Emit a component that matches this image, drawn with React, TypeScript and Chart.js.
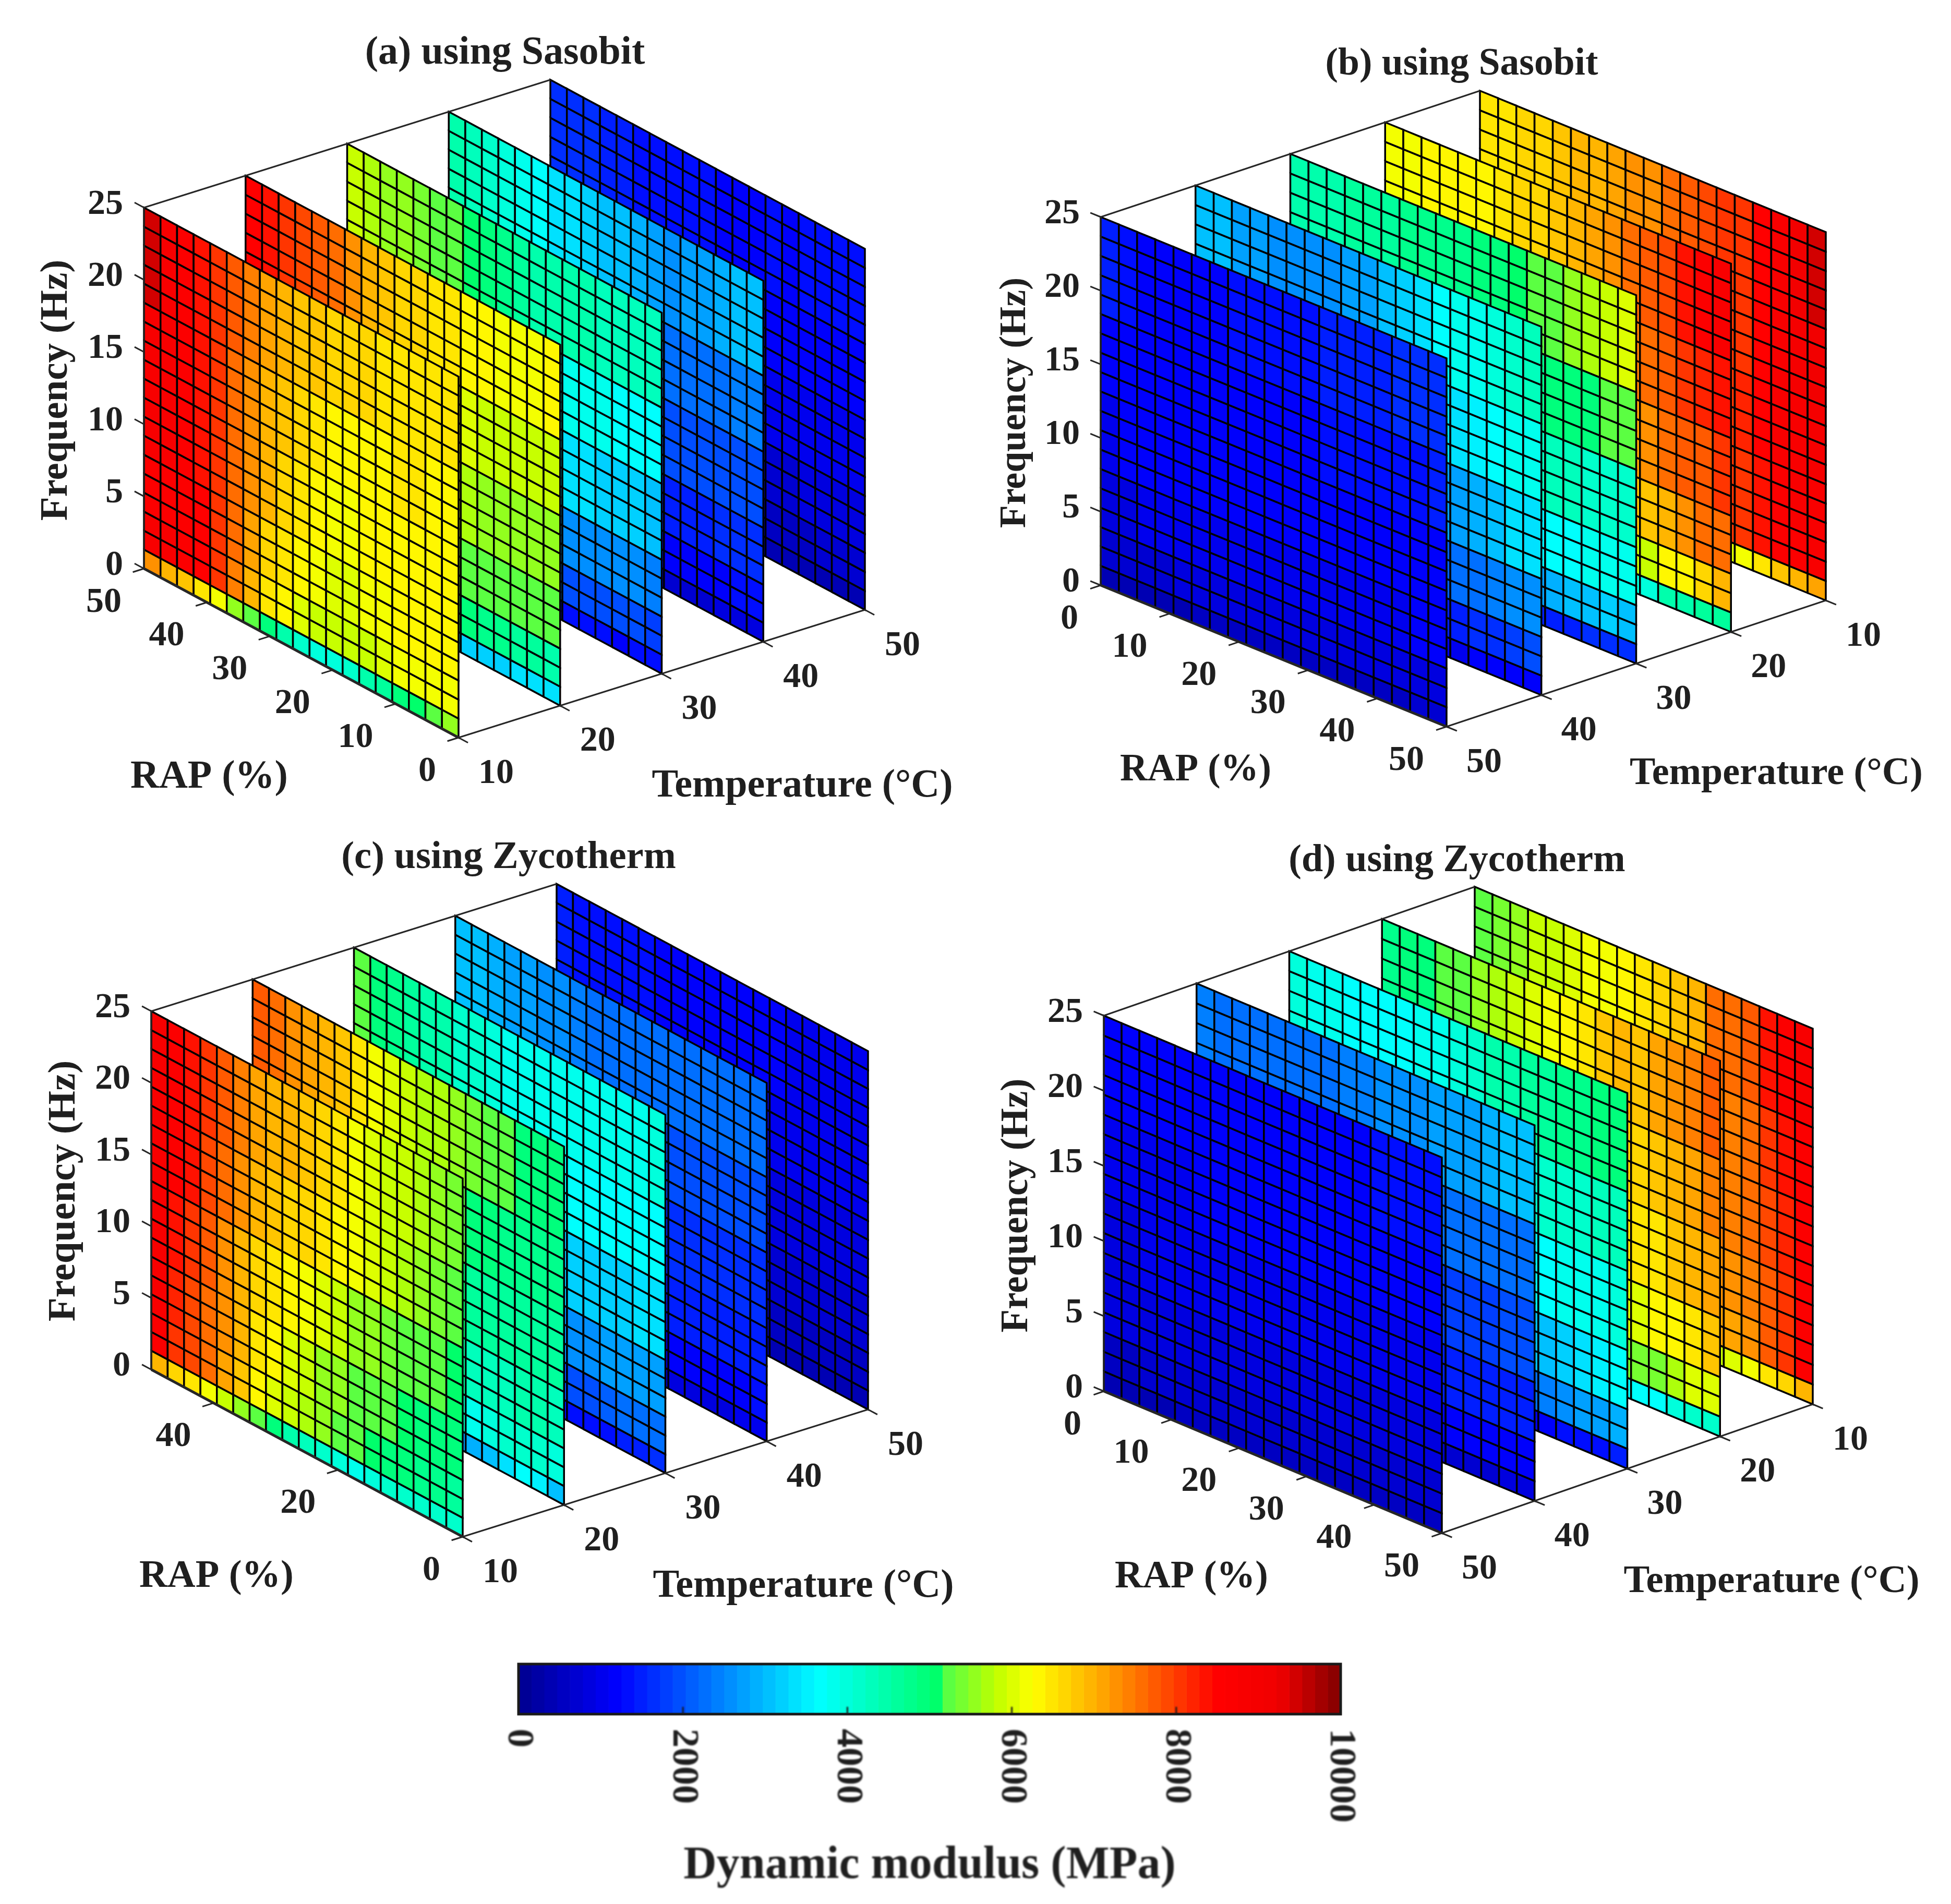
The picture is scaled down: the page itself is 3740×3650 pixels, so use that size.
import React, { useEffect, useRef } from "react";
import { Chart, registerables } from "chart.js";

Chart.register(...registerables);

const SERIF = '"Liberation Serif"';
const TEMPS = [10, 20, 30, 40, 50];
const RAP_GRID = [0, 2.63, 5.26, 7.89, 10.53, 13.16, 15.79, 18.42, 21.05, 23.68, 26.32, 28.95, 31.58, 34.21, 36.84, 39.47, 42.11, 44.74, 47.37, 50];
const FREQ_GRID = [0, 1.32, 2.63, 3.95, 5.26, 6.58, 7.89, 9.21, 10.53, 11.84, 13.16, 14.47, 15.79, 17.11, 18.42, 19.74, 21.05, 22.37, 23.68, 25];
const ROW_BAND = [0, 1, 1, 2, 2, 2, 3, 3, 3, 3, 4, 4, 4, 4, 5, 5, 5, 5, 5];
const FREQ_TICKS = [0, 5, 10, 15, 20, 25];
const RAP_TICKS = [0, 10, 20, 30, 40, 50];
const RAP_TICKS_C = [0, 20, 40];
const TEMP_TICKS = [10, 20, 30, 40, 50];
const COLORBAR_LEVELS = 64;
const COLORBAR_MAX = 10000;

const JET_STOPS: [number, number, number, number][] = [
  [0, 0, 0, 143], [0.12, 0, 0, 255], [0.365, 0, 255, 255], [0.515, 0, 255, 100], [0.52, 85, 255, 70],
  [0.58, 190, 255, 0], [0.625, 255, 255, 0], [0.71, 255, 165, 0], [0.85, 255, 0, 0], [0.925, 240, 0, 0], [1, 128, 0, 0],
];

// Each sheet holds six row groups, bottom to top; columns run in screen order, left to right (MPa)
const A_T10 = [
  [7200, 7000, 6800, 6500, 6200, 5600, 5200, 4900, 4500, 4100, 3950, 4000, 4200, 4400, 4600, 4900, 5000, 5300, 5500],
  [8800, 8800, 8700, 8500, 8000, 7400, 7000, 6500, 6350, 6050, 5900, 5800, 5850, 5900, 6000, 6100, 6200, 6200, 6200],
  [8700, 8700, 8700, 8500, 8000, 7500, 7100, 6700, 6500, 6250, 6100, 6000, 6050, 6100, 6200, 6250, 6300, 6350, 6300],
  [8800, 8800, 8700, 8400, 8000, 7500, 7200, 6900, 6700, 6450, 6300, 6200, 6200, 6250, 6300, 6350, 6400, 6400, 6350],
  [8800, 8800, 8700, 8400, 8000, 7600, 7300, 7000, 6800, 6600, 6450, 6400, 6350, 6350, 6400, 6450, 6450, 6400, 6400],
  [9500, 8900, 8700, 8300, 8000, 7800, 7400, 7100, 7000, 6800, 6800, 6700, 6600, 6600, 6500, 6500, 6500, 6450, 6450],
];
const A_T20 = [
  [5500, 5400, 5200, 5000, 4800, 4500, 4300, 4100, 3900, 3700, 3500, 3300, 3200, 3200, 3200, 3200, 3300, 3300, 3300],
  [7000, 6900, 6800, 6600, 6400, 6200, 6000, 5900, 5800, 5700, 5600, 5500, 5300, 4900, 4800, 4700, 4600, 4550, 4500],
  [7500, 7400, 7200, 7000, 6800, 6600, 6400, 6200, 6100, 6000, 5900, 5800, 5600, 5200, 5200, 5200, 5200, 5200, 5200],
  [7800, 7700, 7500, 7300, 7100, 6900, 6700, 6500, 6400, 6300, 6200, 6100, 6000, 5700, 5600, 5600, 5600, 5600, 5600],
  [8000, 7900, 7700, 7500, 7300, 7000, 6800, 6600, 6500, 6400, 6300, 6200, 6100, 5950, 5900, 5850, 5850, 5850, 5850],
  [8500, 8400, 8100, 7900, 7700, 7500, 7200, 7000, 6800, 6700, 6600, 6500, 6450, 6300, 6250, 6200, 6200, 6200, 6250],
];
const A_T30 = [
  [3500, 3400, 3200, 3000, 2800, 2600, 2400, 2200, 2000, 1800, 1600, 1500, 1400, 1250, 1250, 1250, 1200, 1250, 1300],
  [4500, 4400, 4300, 4100, 3900, 3700, 3500, 3300, 3100, 3000, 2800, 2700, 2600, 2000, 2000, 2000, 2000, 1900, 1800],
  [4800, 4700, 4500, 4400, 4200, 4000, 3800, 3600, 3400, 3200, 3100, 3000, 2900, 2600, 2600, 2600, 2600, 2500, 2400],
  [5200, 5100, 5000, 4800, 4600, 4400, 4200, 4000, 3900, 3700, 3600, 3500, 3400, 3300, 3300, 3200, 3200, 3200, 3100],
  [5400, 5300, 5200, 5000, 4900, 4700, 4500, 4300, 4100, 4000, 3900, 3800, 3800, 3800, 3750, 3750, 3700, 3700, 3700],
  [5800, 5700, 5600, 5500, 5400, 5300, 5200, 5000, 4950, 4800, 4600, 4500, 4450, 4450, 4400, 4300, 4300, 4300, 4300],
];
const A_T40 = [
  [2000, 1900, 1800, 1600, 1400, 1300, 1100, 1000, 1000, 950, 900, 900, 900, 750, 750, 750, 800, 850, 850],
  [2800, 2700, 2500, 2300, 2100, 1900, 1700, 1600, 1500, 1400, 1400, 1300, 1300, 1100, 1150, 1150, 1200, 1250, 1250],
  [3200, 3100, 2900, 2700, 2500, 2300, 2100, 2000, 1900, 1800, 1700, 1600, 1600, 1550, 1550, 1550, 1600, 1600, 1650],
  [3600, 3500, 3300, 3100, 2900, 2700, 2500, 2400, 2300, 2100, 2000, 2000, 1900, 1900, 1900, 1900, 1900, 1950, 1950],
  [4000, 3900, 3700, 3500, 3300, 3100, 2900, 2800, 2700, 2500, 2400, 2300, 2250, 2250, 2250, 2300, 2300, 2350, 2400],
  [4400, 4300, 4100, 4000, 3800, 3600, 3400, 3300, 3200, 3100, 3000, 2900, 2800, 2650, 2700, 2800, 2900, 3000, 3100],
];
const A_T50 = [
  [500, 500, 500, 500, 450, 450, 450, 400, 400, 400, 400, 400, 350, 350, 350, 350, 400, 400, 450],
  [750, 750, 700, 700, 700, 700, 650, 650, 650, 650, 600, 600, 600, 600, 600, 600, 650, 650, 650],
  [1000, 1000, 950, 950, 900, 900, 850, 850, 800, 800, 800, 800, 800, 750, 750, 800, 800, 800, 850],
  [1200, 1200, 1150, 1150, 1100, 1100, 1050, 1050, 1000, 1000, 1000, 1000, 1000, 1000, 1000, 1000, 1000, 1000, 1000],
  [1400, 1400, 1300, 1300, 1250, 1200, 1150, 1100, 1100, 1100, 1100, 1100, 1100, 1100, 1100, 1100, 1150, 1150, 1150],
  [1700, 1600, 1600, 1500, 1500, 1400, 1300, 1300, 1250, 1250, 1200, 1200, 1200, 1250, 1200, 1250, 1300, 1350, 1400],
];
const B_T10 = [
  [5000, 5200, 5200, 5300, 5400, 5500, 5600, 5700, 5800, 5900, 6000, 6000, 6000, 6000, 6200, 6500, 6800, 7000, 7100],
  [6000, 6000, 6100, 6200, 6300, 6400, 6500, 6700, 6900, 7100, 7300, 7500, 7800, 8000, 8100, 8300, 8600, 8700, 8800],
  [6200, 6200, 6300, 6400, 6500, 6600, 6700, 6850, 7000, 7150, 7350, 7550, 7800, 8000, 8100, 8400, 8700, 8800, 8900],
  [6400, 6400, 6500, 6600, 6700, 6800, 6900, 7000, 7100, 7200, 7400, 7600, 7800, 8050, 8150, 8500, 8800, 8900, 9000],
  [6450, 6450, 6550, 6650, 6750, 6850, 6950, 7050, 7150, 7250, 7450, 7650, 7850, 8000, 8100, 8500, 8800, 9000, 9100],
  [6500, 6500, 6600, 6700, 6800, 6900, 7000, 7100, 7200, 7300, 7500, 7700, 7900, 8000, 8100, 8500, 8800, 9200, 9500],
];
const B_T20 = [
  [3600, 3600, 3600, 3600, 3600, 3700, 3700, 3800, 3900, 4000, 4000, 4000, 4000, 4000, 4050, 4450, 4400, 4600, 4600],
  [5000, 5000, 5200, 5200, 5300, 5400, 5500, 5600, 5700, 5800, 5900, 6000, 6100, 5800, 5900, 6400, 6300, 6600, 6900],
  [5500, 5500, 5600, 5700, 5800, 5900, 6000, 6100, 6200, 6300, 6400, 6500, 6600, 6800, 6850, 7000, 7200, 7500, 7600],
  [5800, 5800, 5900, 6000, 6100, 6200, 6300, 6400, 6500, 6600, 6700, 6800, 6900, 7100, 7200, 7500, 7700, 7800, 8000],
  [6000, 6000, 6100, 6100, 6200, 6300, 6400, 6500, 6600, 6700, 6800, 7000, 7200, 7400, 7500, 7800, 8000, 8250, 8350],
  [6200, 6200, 6300, 6300, 6400, 6400, 6500, 6600, 6700, 6800, 6900, 7100, 7300, 7500, 7700, 7900, 8300, 8600, 8800],
];
const B_T30 = [
  [1300, 1300, 1300, 1300, 1300, 1300, 1300, 1300, 1300, 1400, 1400, 1500, 1500, 1500, 1550, 1550, 1600, 1600, 1650],
  [2800, 2800, 2800, 2800, 2800, 2800, 2800, 2900, 3000, 3100, 3200, 3400, 3600, 2800, 2900, 3000, 3100, 3200, 3100],
  [3200, 3200, 3200, 3200, 3200, 3200, 3300, 3400, 3500, 3600, 3700, 3800, 3800, 3500, 3600, 3700, 3750, 3800, 3800],
  [3600, 3600, 3600, 3600, 3700, 3700, 3700, 3800, 3900, 4000, 4100, 4200, 4300, 4300, 4300, 4250, 4200, 4200, 4200],
  [3900, 3900, 3900, 3900, 4000, 4000, 4000, 4100, 4200, 4300, 4400, 4500, 4700, 4800, 4850, 4900, 4950, 5200, 5200],
  [4500, 4500, 4500, 4600, 4600, 4600, 4700, 4700, 4800, 4800, 4900, 4950, 5000, 5200, 5300, 5500, 5700, 5800, 6000],
];
const B_T40 = [
  [900, 900, 900, 900, 900, 900, 900, 900, 900, 950, 1000, 1050, 1050, 1050, 1050, 1100, 1100, 1150, 1200],
  [1300, 1300, 1300, 1300, 1300, 1300, 1300, 1300, 1300, 1350, 1400, 1450, 1500, 1500, 1500, 1600, 1700, 1800, 1900],
  [1700, 1700, 1700, 1700, 1700, 1700, 1700, 1700, 1800, 1800, 1900, 2000, 2100, 2100, 2200, 2300, 2400, 2500, 2600],
  [2100, 2100, 2100, 2100, 2100, 2000, 2000, 2000, 2100, 2200, 2300, 2500, 2700, 2700, 2800, 2900, 3100, 3300, 3400],
  [2400, 2400, 2300, 2300, 2300, 2200, 2200, 2200, 2300, 2500, 2700, 2900, 3200, 3300, 3400, 3500, 3650, 3750, 3800],
  [3000, 3000, 2800, 2700, 2600, 2500, 2500, 2500, 2700, 2800, 3000, 3200, 3400, 3700, 3750, 3800, 3950, 4100, 4300],
];
const B_T50 = [
  [400, 400, 450, 450, 450, 500, 500, 500, 500, 550, 550, 600, 600, 600, 600, 600, 600, 650, 650],
  [700, 700, 750, 750, 800, 800, 800, 850, 850, 850, 850, 850, 850, 850, 850, 900, 900, 900, 900],
  [900, 900, 950, 950, 950, 1000, 1000, 1000, 1000, 1050, 1050, 1050, 1050, 1050, 1050, 1050, 1050, 1100, 1100],
  [1050, 1100, 1100, 1100, 1100, 1100, 1100, 1100, 1100, 1150, 1150, 1150, 1150, 1150, 1150, 1200, 1200, 1200, 1200],
  [1150, 1150, 1150, 1150, 1150, 1150, 1150, 1200, 1200, 1200, 1200, 1200, 1250, 1250, 1250, 1300, 1350, 1400, 1450],
  [1450, 1250, 1200, 1150, 1150, 1200, 1200, 1250, 1250, 1300, 1350, 1400, 1450, 1500, 1500, 1550, 1600, 1650, 1700],
];
const C_T10 = [
  [6950, 6700, 6450, 6200, 5800, 5500, 5200, 4900, 4500, 4300, 4200, 4000, 3900, 4000, 4100, 4150, 4100, 4150, 4150],
  [8700, 8000, 7900, 7500, 7100, 6800, 6300, 6050, 5900, 5650, 5500, 5300, 5250, 5000, 4900, 4850, 4800, 4700, 4550],
  [8800, 8200, 7900, 7500, 7200, 6900, 6500, 6250, 6050, 5800, 5600, 5500, 5300, 5250, 5200, 5100, 4950, 4900, 4850],
  [8800, 8400, 8100, 7700, 7300, 7000, 6700, 6450, 6350, 6200, 6000, 5800, 5600, 5500, 5400, 5300, 5250, 5200, 5000],
  [8800, 8700, 8300, 7900, 7500, 7200, 7000, 6850, 6700, 6600, 6450, 6300, 6200, 6050, 5800, 5650, 5500, 5400, 5200],
  [8800, 8700, 8400, 8100, 7700, 7450, 7150, 7000, 6950, 6850, 6700, 6500, 6200, 6050, 5900, 5800, 5700, 5600, 5400],
];
const C_T20 = [
  [4800, 4700, 4500, 4300, 4100, 3900, 3700, 3500, 3300, 3100, 2900, 2800, 2700, 2900, 3100, 3300, 3600, 3500, 3000],
  [6500, 6300, 6100, 5900, 5700, 5400, 5200, 5000, 4800, 4600, 4500, 4400, 4300, 3900, 4000, 4100, 4100, 4100, 4000],
  [6900, 6700, 6500, 6300, 6100, 5900, 5600, 5400, 5200, 5000, 4900, 4800, 4600, 4300, 4300, 4300, 4400, 4400, 4300],
  [7300, 7100, 6900, 6700, 6500, 6300, 6100, 5900, 5700, 5500, 5300, 5200, 5000, 4600, 4600, 4550, 4600, 4600, 4600],
  [7500, 7300, 7100, 6900, 6700, 6500, 6300, 6100, 5900, 5700, 5500, 5300, 5200, 4900, 4850, 4800, 4800, 4750, 4700],
  [7700, 7600, 7300, 7100, 6900, 6750, 6450, 6200, 6050, 5850, 5750, 5700, 5550, 5400, 5250, 5200, 4950, 4950, 4900],
];
const C_T30 = [
  [1800, 1800, 1700, 1600, 1500, 1500, 1400, 1300, 1300, 1200, 1200, 1200, 1300, 1300, 1300, 1400, 1500, 1500, 1600],
  [3000, 2900, 2800, 2700, 2600, 2500, 2400, 2300, 2200, 2100, 2000, 2000, 2000, 2000, 2000, 2100, 2200, 2200, 2300],
  [3500, 3400, 3300, 3100, 3000, 2900, 2800, 2700, 2600, 2500, 2500, 2500, 2500, 2600, 2600, 2700, 2700, 2800, 2800],
  [4000, 3900, 3800, 3600, 3500, 3400, 3300, 3200, 3100, 3000, 3000, 3000, 3100, 3200, 3200, 3200, 3200, 3300, 3300],
  [4400, 4300, 4200, 4000, 3900, 3800, 3700, 3600, 3500, 3400, 3400, 3500, 3600, 3700, 3700, 3700, 3700, 3700, 3700],
  [5200, 4950, 4800, 4600, 4500, 4400, 4200, 4100, 4000, 3900, 3800, 3800, 3800, 3900, 3900, 3900, 3900, 3900, 3950],
];
const C_T40 = [
  [1200, 1200, 1100, 1100, 1000, 1000, 900, 900, 800, 800, 800, 800, 800, 850, 850, 850, 900, 950, 950],
  [1800, 1800, 1700, 1600, 1500, 1400, 1400, 1300, 1300, 1300, 1200, 1200, 1200, 1150, 1150, 1150, 1200, 1200, 1250],
  [2100, 2100, 2000, 1900, 1800, 1700, 1600, 1600, 1500, 1500, 1500, 1500, 1500, 1500, 1500, 1500, 1500, 1500, 1500],
  [2400, 2400, 2300, 2200, 2100, 2000, 1900, 1800, 1800, 1700, 1700, 1700, 1700, 1700, 1700, 1700, 1700, 1700, 1700],
  [2700, 2600, 2500, 2400, 2300, 2200, 2100, 2000, 2000, 1900, 1900, 1900, 1900, 1950, 1950, 1950, 1950, 1950, 1950],
  [3000, 3000, 2900, 2800, 2700, 2600, 2500, 2400, 2300, 2300, 2300, 2300, 2300, 2300, 2250, 2250, 2200, 2200, 2200],
];
const C_T50 = [
  [500, 500, 500, 450, 450, 450, 450, 400, 400, 400, 400, 350, 350, 350, 350, 350, 350, 350, 350],
  [800, 750, 750, 700, 700, 650, 650, 600, 600, 600, 550, 550, 550, 550, 550, 550, 550, 550, 550],
  [1000, 950, 950, 900, 900, 850, 850, 800, 800, 750, 750, 700, 700, 700, 700, 700, 700, 700, 700],
  [1150, 1100, 1050, 1050, 1000, 950, 950, 900, 900, 850, 850, 850, 850, 850, 850, 850, 850, 850, 850],
  [1300, 1250, 1200, 1200, 1150, 1100, 1100, 1050, 1050, 1000, 1000, 1000, 950, 950, 950, 950, 950, 950, 950],
  [1500, 1400, 1400, 1300, 1300, 1250, 1200, 1200, 1150, 1150, 1100, 1100, 1100, 1100, 1050, 1050, 1050, 1000, 1000],
];
const D_T10 = [
  [3500, 3600, 3700, 3800, 3900, 4000, 4100, 4300, 4500, 4800, 5000, 5200, 5500, 5800, 5950, 6200, 6550, 6700, 6950],
  [4500, 4700, 4900, 5200, 5300, 5500, 5700, 5900, 6100, 6300, 6500, 6700, 6900, 7100, 7150, 7300, 7700, 8100, 8700],
  [4800, 5000, 5200, 5400, 5600, 5800, 6000, 6100, 6300, 6400, 6600, 6800, 7000, 7300, 7300, 7400, 7700, 8100, 8700],
  [5000, 5200, 5400, 5600, 5800, 6000, 6100, 6200, 6400, 6500, 6700, 6900, 7100, 7400, 7400, 7500, 7900, 8200, 8700],
  [5200, 5300, 5500, 5700, 5850, 6000, 6150, 6250, 6350, 6500, 6700, 6900, 7100, 7450, 7450, 7500, 8000, 8300, 8700],
  [5200, 5400, 5600, 5800, 5900, 6000, 6150, 6200, 6300, 6450, 6600, 6800, 7000, 7500, 7550, 7700, 8300, 8700, 8800],
];
const D_T20 = [
  [2800, 2800, 2800, 2800, 2900, 3000, 3100, 3200, 3300, 3400, 3500, 3600, 3700, 3700, 3700, 3700, 3950, 4100, 4200],
  [4000, 4000, 4100, 4200, 4300, 4400, 4500, 4700, 4800, 4950, 5200, 5300, 5400, 5400, 5400, 5400, 5700, 5950, 6050],
  [4300, 4300, 4400, 4500, 4600, 4700, 4900, 5200, 5400, 5600, 5800, 6000, 6000, 6050, 6050, 6250, 6400, 6550, 6800],
  [4500, 4600, 4700, 4800, 4950, 5200, 5300, 5500, 5700, 5900, 6100, 6300, 6400, 6450, 6450, 6550, 6800, 6950, 7100],
  [4600, 4700, 4800, 4950, 5200, 5400, 5500, 5700, 5900, 6100, 6300, 6500, 6650, 6700, 6650, 6800, 6950, 7100, 7350],
  [4800, 4900, 4950, 5200, 5300, 5500, 5650, 5800, 6000, 6200, 6250, 6450, 6800, 6900, 6850, 7050, 7250, 7450, 7750],
];
const D_T30 = [
  [1300, 1300, 1300, 1300, 1300, 1300, 1300, 1300, 1400, 1400, 1500, 1500, 1300, 1100, 1150, 1250, 1300, 1400, 1500],
  [2600, 2600, 2600, 2600, 2600, 2600, 2600, 2700, 2800, 2900, 3000, 3100, 3200, 2300, 2400, 2500, 2700, 2800, 2900],
  [3000, 3000, 3000, 3000, 3000, 3000, 3000, 3100, 3200, 3300, 3400, 3500, 3600, 3000, 3100, 3200, 3300, 3500, 3600],
  [3200, 3200, 3200, 3200, 3200, 3300, 3300, 3400, 3500, 3600, 3700, 3800, 3900, 3650, 3700, 3800, 3850, 3900, 3950],
  [3600, 3500, 3400, 3400, 3400, 3500, 3500, 3600, 3700, 3800, 4000, 4200, 4300, 4100, 4150, 4200, 4200, 4250, 4250],
  [4000, 3900, 3800, 3700, 3700, 3600, 3700, 3800, 3900, 4000, 4200, 4400, 4500, 4550, 4600, 4700, 4800, 4900, 4950],
];
const D_T40 = [
  [900, 900, 900, 900, 950, 950, 950, 950, 950, 1000, 1000, 1050, 800, 750, 750, 750, 750, 800, 800],
  [1300, 1300, 1300, 1300, 1300, 1300, 1300, 1300, 1300, 1300, 1300, 1300, 1200, 1150, 1150, 1200, 1200, 1200, 1200],
  [1600, 1600, 1600, 1600, 1600, 1600, 1600, 1600, 1600, 1600, 1600, 1600, 1500, 1500, 1500, 1500, 1550, 1550, 1550],
  [1800, 1800, 1800, 1800, 1800, 1800, 1800, 1800, 1800, 1800, 1800, 1800, 1800, 1800, 1800, 1800, 1850, 1900, 1900],
  [2100, 2100, 2100, 2100, 2100, 2100, 2100, 2100, 2100, 2100, 2100, 2100, 2150, 2200, 2200, 2200, 2300, 2300, 2300],
  [2400, 2300, 2300, 2200, 2200, 2300, 2300, 2300, 2400, 2400, 2500, 2600, 2650, 2700, 2750, 2800, 2900, 3000, 3100],
];
const D_T50 = [
  [450, 450, 450, 450, 500, 500, 500, 500, 500, 500, 500, 500, 500, 500, 500, 500, 500, 550, 550],
  [600, 600, 650, 650, 650, 650, 650, 650, 700, 700, 700, 700, 700, 700, 700, 700, 700, 700, 700],
  [800, 800, 800, 800, 850, 850, 850, 850, 850, 850, 850, 850, 850, 850, 850, 850, 850, 850, 850],
  [900, 900, 950, 950, 950, 950, 1000, 1000, 1000, 1000, 1000, 1000, 1000, 1000, 1000, 1000, 1000, 1000, 1000],
  [1000, 1000, 1050, 1050, 1050, 1100, 1100, 1100, 1100, 1100, 1100, 1100, 1100, 1100, 1100, 1100, 1100, 1100, 1150],
  [1200, 1100, 1100, 1100, 1100, 1100, 1100, 1100, 1100, 1100, 1100, 1150, 1150, 1200, 1200, 1250, 1300, 1350, 1400],
];

function jet(value: number): string {
  const level = Math.min(COLORBAR_LEVELS - 1, Math.floor((value / COLORBAR_MAX) * COLORBAR_LEVELS));
  const t = (level + 0.5) / COLORBAR_LEVELS;
  for (let i = 1; i < JET_STOPS.length; i++) {
    const a = JET_STOPS[i - 1];
    const b = JET_STOPS[i];
    if (t <= b[0]) {
      const k = (t - a[0]) / (b[0] - a[0]);
      const c = [1, 2, 3].map((j) => Math.round(a[j] + (b[j] - a[j]) * k));
      return `rgb(${c[0]},${c[1]},${c[2]})`;
    }
  }
  return "rgb(128,0,0)";
}

type Panel = {
  title: string; titleAt: number[]; rapLabelAt: number[]; tempLabelAt: number[]; freqLabelAt: number[];
  fonts: number[];
  box: number[]; base: number[]; tVec: number[]; rVec: number[]; fSpan: number;
  sheets: number[][][]; rapTicks: number[]; flipped: boolean;
};

// fonts: title, RAP label, temperature label, frequency label (px)
const PANELS: Panel[] = [
  { title: "(a) using Sasobit", titleAt: [968, 102], rapLabelAt: [401, 1490], tempLabelAt: [1538, 1507], freqLabelAt: [109, 748],
    fonts: [76, 76, 76, 75],
    box: [0, 0, 1870, 1570], base: [879, 1414], tVec: [779, -245], rVec: [-603, -324], fSpan: -692,
    sheets: [A_T10, A_T20, A_T30, A_T40, A_T50], rapTicks: RAP_TICKS, flipped: false },
  { title: "(b) using Sasobit", titleAt: [2802, 124], rapLabelAt: [2292, 1477], tempLabelAt: [3405, 1484], freqLabelAt: [1946, 772],
    fonts: [73.5, 73, 74, 72],
    box: [1870, 0, 1870, 1570], base: [2837, 880], tVec: [-727, 242], rVec: [663, 271], fSpan: -706,
    sheets: [B_T10, B_T20, B_T30, B_T40, B_T50], rapTicks: RAP_TICKS, flipped: true },
  { title: "(c) using Zycotherm", titleAt: [975, 1645], rapLabelAt: [415, 3023], tempLabelAt: [1540, 3041], freqLabelAt: [124, 2283],
    fonts: [74.5, 74.5, 76, 75],
    box: [0, 1570, 1870, 1550], base: [887, 2946], tVec: [777, -244], rVec: [-597, -320.5], fSpan: -687,
    sheets: [C_T10, C_T20, C_T30, C_T40, C_T50], rapTicks: RAP_TICKS_C, flipped: false },
  { title: "(d) using Zycotherm", titleAt: [2793, 1651], rapLabelAt: [2284, 3024], tempLabelAt: [3396, 3033], freqLabelAt: [1950, 2311],
    fonts: [74, 74, 74.7, 73],
    box: [1870, 1570, 1870, 1550], base: [2827, 2420], tVec: [-711, 247], rVec: [648, 272], fSpan: -720,
    sheets: [D_T10, D_T20, D_T30, D_T40, D_T50], rapTicks: RAP_TICKS, flipped: true },
];

const AXIS_COLOR = "#262626";
const TEXT_COLOR = "#1f1f1f";

function makeProjector(p: Panel) {
  return (t: number, r: number, f: number) => ({
    x: p.base[0] + ((t - 10) / 40) * p.tVec[0] + (r / 50) * p.rVec[0],
    y: p.base[1] + ((t - 10) / 40) * p.tVec[1] + (r / 50) * p.rVec[1] + (f / 25) * p.fSpan,
  });
}

function panelDatasets(p: Panel) {
  const proj = makeProjector(p);
  const back: any[] = [];
  const order = p.flipped ? [0, 1, 2, 3, 4] : [4, 3, 2, 1, 0];
  const rapEdges = p.flipped ? RAP_GRID : [...RAP_GRID].reverse();
  for (const s of order) {
    const t = TEMPS[s];
    for (let row = 0; row < FREQ_GRID.length - 1; row++) {
      const values = p.sheets[s][ROW_BAND[row]];
      for (let col = 0; col < values.length; col++) {
        const r0 = rapEdges[col], r1 = rapEdges[col + 1], f0 = FREQ_GRID[row], f1 = FREQ_GRID[row + 1];
        back.push({
          data: [proj(t, r0, f0), proj(t, r1, f0), proj(t, r1, f1), proj(t, r0, f1), proj(t, r0, f0)],
          showLine: true, fill: "shape", backgroundColor: jet(values[col]),
          borderColor: "#000", borderWidth: 3.5, pointRadius: 0, borderJoinStyle: "miter",
        });
      }
    }
  }
  const seg = (a: any, b: any, w = 3) => ({
    data: [a, b], showLine: true, fill: false, borderColor: AXIS_COLOR, borderWidth: w, pointRadius: 0,
  });
  const tFront = p.flipped ? 50 : 10;
  const rLeft = p.flipped ? 0 : 50;
  const rFront = p.flipped ? 50 : 0;
  const tOut = p.flipped ? 1.1 : -1.1;
  const rOutLeft = p.flipped ? -1.5 : 1.5;
  const rOutFront = p.flipped ? 1.5 : -1.5;
  const axes = [
    seg(proj(tFront, 0, 0), proj(tFront, 50, 0), 5),
    seg(proj(10, rFront, 0), proj(50, rFront, 0)),
    seg(proj(tFront, rLeft, 0), proj(tFront, rLeft, 25)),
    seg(proj(10, rLeft, 25), proj(50, rLeft, 25)),
  ];
  for (const f of FREQ_TICKS) axes.push(seg(proj(tFront, rLeft, f), proj(tFront, rLeft + rOutLeft, f)));
  for (const r of p.rapTicks) axes.push(seg(proj(tFront, r, 0), proj(tFront + tOut, r, 0)));
  for (const t of TEMP_TICKS) axes.push(seg(proj(t, rFront, 0), proj(t, rFront + rOutFront, 0)));
  return [...axes, ...back.reverse()];
}

const panelTextPlugin = (p: Panel) => ({
  id: "panelText",
  afterDatasetsDraw(chart: any) {
    const { ctx, scales } = chart;
    const proj = makeProjector(p);
    const px = (pt: { x: number; y: number }) => [scales.x.getPixelForValue(pt.x), scales.y.getPixelForValue(pt.y)];
    const tFront = p.flipped ? 50 : 10;
    const rLeft = p.flipped ? 0 : 50;
    const rFront = p.flipped ? 50 : 0;
    const offX = p.box[0], offY = p.box[1];
    ctx.save();
    ctx.fillStyle = TEXT_COLOR;
    ctx.textBaseline = "middle";
    ctx.font = `bold 68px ${SERIF}`;
    ctx.textAlign = "right";
    for (const f of FREQ_TICKS) {
      const [x, y] = px(proj(tFront, rLeft, f));
      ctx.fillText(String(f), x - 40, y - 6);
    }
    for (const r of p.rapTicks) {
      const [x, y] = px(proj(tFront, r, 0));
      ctx.fillText(String(r), x - 43, y + 65);
    }
    ctx.textAlign = "center";
    for (const t of TEMP_TICKS) {
      const [x, y] = px(proj(t, rFront, 0));
      ctx.fillText(String(t), x + 72, y + 69);
    }
    ctx.font = `bold ${p.fonts[0]}px ${SERIF}`;
    ctx.fillText(p.title, p.titleAt[0] - offX, p.titleAt[1] - offY);
    ctx.font = `bold ${p.fonts[1]}px ${SERIF}`;
    ctx.fillText("RAP (%)", p.rapLabelAt[0] - offX, p.rapLabelAt[1] - offY);
    ctx.font = `bold ${p.fonts[2]}px ${SERIF}`;
    ctx.fillText("Temperature (°C)", p.tempLabelAt[0] - offX, p.tempLabelAt[1] - offY);
    ctx.save();
    ctx.translate(p.freqLabelAt[0] - offX, p.freqLabelAt[1] - offY);
    ctx.rotate(-Math.PI / 2);
    ctx.font = `bold ${p.fonts[3]}px ${SERIF}`;
    ctx.fillText("Frequency (Hz)", 0, 0);
    ctx.restore();
    ctx.restore();
  },
});

function PanelChart({ panel }: { panel: Panel }) {
  const ref = useRef<HTMLCanvasElement>(null);
  useEffect(() => {
    const [bx, by, bw, bh] = panel.box;
    const chart = new Chart(ref.current as HTMLCanvasElement, {
      type: "scatter",
      data: { datasets: panelDatasets(panel) as any },
      options: {
        animation: false, responsive: false, events: [], normalized: true,
        layout: { padding: 0 },
        plugins: { legend: { display: false }, tooltip: { enabled: false } },
        scales: {
          x: { type: "linear", display: false, min: bx, max: bx + bw },
          y: { type: "linear", display: false, min: by, max: by + bh, reverse: true },
        },
      } as any,
      plugins: [panelTextPlugin(panel)],
    });
    return () => chart.destroy();
  }, [panel]);
  const [bx, by, bw, bh] = panel.box;
  return <canvas ref={ref} width={bw} height={bh} style={{ position: "absolute", left: bx, top: by, width: bw, height: bh }} />;
}

const COLORBAR_BOX = [0, 3120, 3740, 530];

const colorbarPlugin = {
  id: "colorbarText",
  afterDatasetsDraw(chart: any) {
    const { ctx, scales, chartArea } = chart;
    ctx.save();
    ctx.strokeStyle = "#1a1a1a";
    ctx.lineWidth = 5;
    ctx.strokeRect(chartArea.left, chartArea.top, chartArea.right - chartArea.left, chartArea.bottom - chartArea.top);
    ctx.lineWidth = 3;
    ctx.fillStyle = TEXT_COLOR;
    ctx.font = `bold 72px ${SERIF}`;
    ctx.textBaseline = "middle";
    ctx.textAlign = "left";
    ctx.filter = "blur(1.5px)";
    for (const tick of scales.x.ticks) {
      const x = scales.x.getPixelForValue(tick.value);
      if (tick.value > 0 && tick.value < COLORBAR_MAX) {
        ctx.beginPath();
        ctx.moveTo(x, chartArea.bottom);
        ctx.lineTo(x, chartArea.bottom - 14);
        ctx.stroke();
      }
      ctx.save();
      ctx.translate(x, chartArea.bottom + 28);
      ctx.rotate(Math.PI / 2);
      ctx.fillText(String(tick.value), 0, 0);
      ctx.restore();
    }
    ctx.textAlign = "center";
    ctx.font = `bold 88px ${SERIF}`;
    ctx.fillText("Dynamic modulus (MPa)", 1782, 3577 - COLORBAR_BOX[1]);
    ctx.restore();
  },
};

function Colorbar() {
  const ref = useRef<HTMLCanvasElement>(null);
  useEffect(() => {
    const levels = Array.from({ length: COLORBAR_LEVELS }, (_, i) => i);
    const chart = new Chart(ref.current as HTMLCanvasElement, {
      type: "bar",
      data: {
        labels: ["modulus"],
        datasets: levels.map((i) => ({
          data: [COLORBAR_MAX / COLORBAR_LEVELS],
          backgroundColor: jet(((i + 0.5) / COLORBAR_LEVELS) * COLORBAR_MAX),
          borderWidth: 0, barPercentage: 1, categoryPercentage: 1,
        })),
      },
      options: {
        indexAxis: "y", animation: false, responsive: false, events: [],
        layout: { padding: { left: 994, right: 3740 - 2570, top: 3190 - COLORBAR_BOX[1], bottom: COLORBAR_BOX[1] + COLORBAR_BOX[3] - 3286 } },
        plugins: { legend: { display: false }, tooltip: { enabled: false } },
        scales: {
          x: { type: "linear", stacked: true, display: false, min: 0, max: COLORBAR_MAX, ticks: { stepSize: 2000 } },
          y: { stacked: true, display: false },
        },
      } as any,
      plugins: [colorbarPlugin],
    });
    return () => chart.destroy();
  }, []);
  const [bx, by, bw, bh] = COLORBAR_BOX;
  return <canvas ref={ref} width={bw} height={bh} style={{ position: "absolute", left: bx, top: by, width: bw, height: bh }} />;
}

export default function App() {
  useEffect(() => {
    document.body.style.margin = "0";
    document.body.style.background = "#fff";
  }, []);
  return (
    <div style={{ position: "relative", width: 3740, height: 3650, overflow: "hidden", background: "#fff" }}>
      {PANELS.map((p) => <PanelChart key={p.title} panel={p} />)}
      <Colorbar />
    </div>
  );
}
